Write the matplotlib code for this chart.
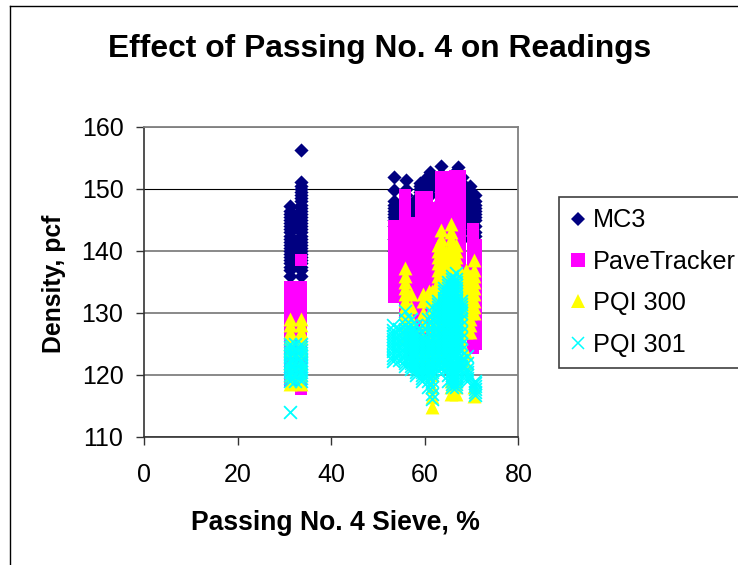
import matplotlib
matplotlib.use("Agg")
import matplotlib.pyplot as plt
from matplotlib.lines import Line2D

plt.rcParams['font.family'] = ['Liberation Sans', 'DejaVu Sans']

title = "Effect of Passing No. 4 on Readings"
xlabel = "Passing No. 4 Sieve, %"
ylabel = "Density, pcf"
series_names = ["MC3", "PaveTracker", "PQI 300", "PQI 301"]
x_ticks = [0, 20, 40, 60, 80]
y_ticks = [110, 120, 130, 140, 150, 160]

mc3 = {
    31.1: [136, 137, 137.5, 138, 138.5, 139, 139.5, 140, 140.5, 141, 141.5, 142, 142.5, 143, 143.5, 144, 144.5, 145, 145.5, 146, 146.5, 147.2],
    33.6: [136, 137, 137.5, 138, 138.5, 139, 139.5, 140, 140.5, 141, 141.5, 142, 142.5, 143, 143.5, 144, 144.5, 145, 145.5, 146, 146.5, 147, 147.5, 148, 148.5, 149, 149.5, 150, 150.5, 151.2, 156.3],
    53.3: [140, 142, 144, 145, 145.5, 146, 146.5, 147, 147.5, 148, 149.9, 152],
    56: [141, 144, 146, 148, 149, 150, 151.4],
    57.6: [145, 145.5, 146, 146.5, 147, 147.5, 148],
    59: [145, 147, 148, 149, 149.5, 150, 150.5, 151],
    60: [147, 149, 150, 150.5, 151, 151.6],
    61.2: [147, 149, 150, 150.5, 151, 151.5, 152, 152.7],
    63.5: [148, 150, 151.5, 152.5, 153.7],
    66: [150, 152, 152.5],
    67: [148, 150, 152, 152.7, 153.5],
    68: [150, 151, 152],
    68.8: [145, 146, 147, 148, 149, 150],
    69.7: [142, 143, 144, 145, 146, 147, 148, 149, 149.5, 150.5],
    70.8: [142.5, 143, 144, 145, 145.5, 146, 146.5, 147, 147.5, 148, 149],
}
pave = {
    31.1: [119, 120.5, 122, 123.5, 125, 126.5, 128, 129.5, 131, 132.5, 134.2],
    33.6: [117.7, 119, 120.5, 122, 123.5, 125, 126.5, 128, 129.5, 131, 132.5, 134.2, 138.6],
    53.3: [132.6, 134, 135.5, 137, 138.5, 140, 141.5, 143, 144],
    55.7: [130, 131.5, 133, 134.5, 136, 137.5, 139, 140.5, 142, 143.5, 145, 146.5, 148, 149],
    57.5: [124, 125.5, 127, 128.5, 130, 131.5, 133, 134.5, 136, 137.5, 139, 140.5, 142, 143.5, 144.5],
    59.2: [122, 123.5, 125, 126.5, 128, 129.5, 131, 132.5, 134, 135.5, 137, 138.5, 140, 141.5, 143, 144.5, 146, 147.5, 148.7],
    60.4: [122, 123.5, 125, 126.5, 128, 129.5, 131, 132.5, 134, 135.5, 137, 138.5, 140, 141.5, 143, 144.5, 146, 147.5, 148.7],
    61.8: [124, 125.5, 127, 128.5, 130, 131.5, 133, 134.5, 136, 137.5, 139, 140.5, 142, 143.5, 145, 147],
    63.4: [128, 129.5, 131, 132.5, 134, 135.5, 137, 138.5, 140, 141.5, 143, 144.5, 146, 147.5, 149, 150.5, 152],
    64.1: [128, 129.5, 131, 132.5, 134, 135.5, 137, 138.5, 140, 141.5, 143, 144.5, 146, 147.5, 149, 150.5, 152],
    66.5: [128, 129.5, 131, 132.5, 134, 135.5, 137, 138.5, 140, 141.5, 143, 144.5, 146, 147.5, 149, 150.5, 152.1],
    67.6: [128, 129.5, 131, 132.5, 134, 135.5, 137, 138.5, 140, 141.5, 143, 144.5, 146, 147.5, 149, 150.5, 152.1],
    70.2: [124.4, 125.5, 127, 128.5, 130, 131.5, 133, 134.5, 136, 137.5, 139, 140.5, 142, 143.5],
    71: [125, 126.5, 128, 129.5, 131, 132.5, 134, 135.5, 137, 138.5, 140, 140.9],
}
pqi300 = {
    31.1: [118.6, 120, 122, 124, 125, 126, 127, 128, 129],
    33.6: [118.6, 120, 122, 124, 125, 126, 127, 128, 129],
    55.8: [126, 127.5, 129, 130, 131, 132, 133, 134, 135, 136, 137.3],
    57: [125, 127, 129, 131, 133],
    59.6: [123, 124, 126, 128, 130, 132, 133],
    60.8: [122, 124, 126, 128, 130, 132, 133.5],
    61.6: [114.8, 116.5, 118, 120, 122, 124, 126, 128, 130, 132, 133.5],
    62.8: [123, 124, 125, 126, 127, 128, 129, 130, 131, 132, 133, 134, 135, 136, 137, 138, 139, 140, 141],
    63.5: [123, 125, 127, 129, 131, 133, 135, 136, 137, 138, 139, 140, 141, 142, 143.4],
    64.5: [122, 124, 126, 128, 130, 132, 133, 134, 135, 136, 137, 138, 139, 140],
    65.6: [117, 118, 119, 125, 127, 128, 129, 130, 131, 132, 133, 134, 135, 136, 137, 138, 139, 140, 141, 142, 143, 144.4],
    66.6: [117, 118, 119, 127, 128, 129, 130, 131, 132, 133, 134, 135, 136, 137, 138, 139, 140, 141],
    67.7: [125, 126, 127, 128, 129, 130, 131, 132, 133, 134, 135, 136, 136.5],
    68.8: [122, 123.5, 127, 128, 129, 130, 131, 132, 133, 134, 135, 136, 137],
    69.6: [127, 128, 129, 130, 131, 132, 133, 134, 135, 136],
    70.4: [116.6, 118, 130, 131, 132, 133, 134, 135, 136, 137, 138.6],
}
pqi301 = {
    31.1: [114, 119, 119.5, 120, 120.5, 121, 121.5, 122, 122.5, 123, 123.5, 124, 124.5, 125],
    32.3: [119, 120, 121, 122, 123, 124, 125],
    33.6: [119, 119.5, 120, 120.5, 121, 121.5, 122, 122.5, 123, 123.5, 124, 124.5, 125],
    53.2: [122.3, 122.8, 123.3, 123.8, 124.3, 124.8, 125.3, 125.8, 126.3, 126.8, 127.3, 128],
    54.4: [122.5, 123.5, 124.5, 125.5, 126.5, 127.5],
    55.8: [121.5, 122, 122.5, 123, 123.5, 124, 124.5, 125, 125.5, 126, 126.5, 127, 127.5, 128, 129, 130.4],
    57: [121, 121.5, 122, 122.5, 123, 123.5, 124, 124.5, 125, 125.5, 126, 126.5, 127, 127.5, 128, 129],
    58.2: [120, 120.5, 121, 121.5, 122, 122.5, 123, 123.5, 124, 124.5, 125, 125.5, 126, 126.5, 127, 128],
    59.4: [119, 119.5, 120, 120.5, 121, 121.5, 122, 122.5, 123, 123.5, 124, 124.5, 125, 125.5, 126, 127, 128],
    60.6: [118, 119, 120, 120.5, 121, 121.5, 122, 122.5, 123, 123.5, 124, 124.5, 125, 125.5, 126, 127, 128, 129],
    61.6: [116.2, 117, 118, 119, 120, 120.5, 121, 121.5, 122, 122.5, 123, 123.5, 124, 124.5, 125, 126, 127, 128, 129, 130, 131],
    62.8: [120.8, 121.5, 122, 122.5, 123, 123.5, 124, 124.5, 125, 125.5, 126, 126.5, 127, 127.5, 128, 128.5, 129, 129.5, 130, 130.5, 131, 131.5, 132],
    64: [120.8, 121.5, 122, 122.5, 123, 123.5, 124, 124.5, 125, 125.5, 126, 126.5, 127, 127.5, 128, 128.5, 129, 129.5, 130, 130.5, 131, 131.5, 132, 132.5, 133, 133.5, 134],
    65: [119, 120, 121, 122, 123, 124, 125, 126, 127, 128, 128.5, 129, 129.5, 130, 130.5, 131, 131.5, 132, 132.5, 133, 133.5, 134, 134.5, 135],
    65.8: [118, 118.5, 119, 119.5, 120, 120.5, 121, 121.5, 122, 122.5, 123, 123.5, 124, 124.5, 125, 125.5, 126, 126.5, 127, 127.5, 128, 128.5, 129, 129.5, 130, 130.5, 131, 131.5, 132, 132.5, 133, 133.5, 134, 134.5, 135, 135.5, 136],
    66.6: [118, 118.5, 119, 119.5, 120, 120.5, 121, 121.5, 122, 122.5, 123, 123.5, 124, 124.5, 125, 125.5, 126, 126.5, 127, 127.5, 128, 128.5, 129, 129.5, 130, 130.5, 131, 131.5, 132, 132.5, 133, 133.5, 134, 134.5, 135, 135.5, 136.4],
    67.8: [121, 121.5, 122, 122.5, 123, 124, 125, 126, 127, 128, 129, 130, 130.5, 131, 131.5, 132],
    69: [119, 119.5, 120, 120.5, 121, 122, 123],
    70.8: [116.7, 117.2, 117.7, 118.2, 118.7, 119],
}

NAVY = "#000080"
PINK = "#FF00FF"
YELLOW = "#FFFF00"
CYAN = "#00FFFF"

W, H = 738, 565
fig = plt.figure(figsize=(W / 100, H / 100), dpi=100)
ax = fig.add_axes([144 / W, 1 - 437 / H, 374.5 / W, 310 / H])

styles = [
    (mc3, "D", NAVY, 52, 0),
    (pave, "s", PINK, 68, 0),
    (pqi300, "^", YELLOW, 100, 0),
    (pqi301, "x", CYAN, 85, 1.3),
]
for data, marker, color, size, lw in styles:
    xs = [x for x, vals in data.items() for _ in vals]
    ys = [y for vals in data.values() for y in vals]
    ax.scatter(xs, ys, marker=marker, color=color, s=size, linewidths=lw, clip_on=False, zorder=3)

ax.set_xlim(0, 80)
ax.set_ylim(110, 160)
ax.set_xticks(x_ticks)
ax.set_yticks(y_ticks)
ax.tick_params(axis="y", labelsize=18, length=5.8, width=1, color="#333333", pad=9)
ax.tick_params(axis="x", labelsize=18, length=5.8, width=1, color="#333333", pad=13)
ax.grid(axis="y", color="#808080", linewidth=1.3)
ax.set_axisbelow(True)
ax.get_ygridlines()[4].set_color("black")
ax.get_ygridlines()[4].set_linewidth(0.8)
for side in ["top", "right"]:
    ax.spines[side].set_color("#808080")
    ax.spines[side].set_linewidth(1.3)
for side in ["left", "bottom"]:
    ax.spines[side].set_color("#333333")
    ax.spines[side].set_linewidth(1.2)

fig.text(380 / W, 1 - 49 / H, title, fontsize=22.9, fontweight="bold", ha="center", va="center")
fig.text(335 / W, 1 - 523 / H, xlabel, fontsize=19.1, fontweight="bold", ha="center", va="center")
fig.text(54.5 / W, 1 - 284 / H, ylabel, fontsize=17.8, fontweight="bold", ha="center", va="center", rotation=90)

handles = [
    Line2D([], [], linestyle="none", marker="D", color=NAVY, markersize=7, markeredgewidth=0),
    Line2D([], [], linestyle="none", marker="s", color=PINK, markersize=9.8, markeredgewidth=0),
    Line2D([], [], linestyle="none", marker="^", color=YELLOW, markersize=10.5, markeredgewidth=0),
    Line2D([], [], linestyle="none", marker="x", color=CYAN, markersize=9, markeredgewidth=1.1),
]
leg = fig.legend(handles, series_names, loc="upper left", bbox_to_anchor=(559 / W, 1 - 197 / H),
                 borderaxespad=0, fontsize=18.2, frameon=True, fancybox=False, edgecolor="#404040",
                 framealpha=1, labelspacing=0.69, handletextpad=0.3, handlelength=0.58, borderpad=0.45)
leg.get_frame().set_linewidth(1.2)

fig.add_artist(Line2D([9.5 / W, 9.5 / W], [0, 1 - 6 / H], color="black", linewidth=1))
fig.add_artist(Line2D([9.5 / W, 1], [1 - 6 / H, 1 - 6 / H], color="black", linewidth=1))

fig.savefig("out.png", dpi=100)
